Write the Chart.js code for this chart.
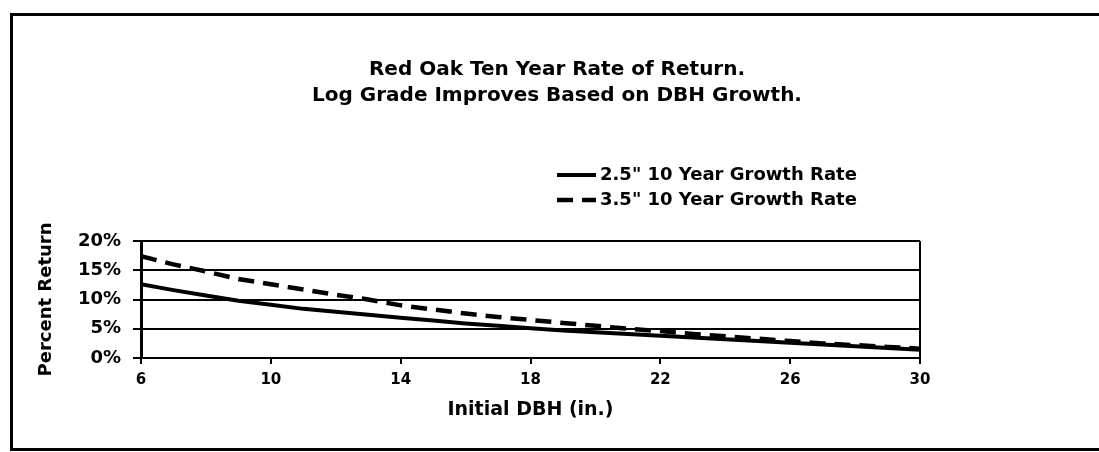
<!DOCTYPE html>
<html>
<head>
<meta charset="utf-8">
<script src="https://cdn.jsdelivr.net/npm/chart.js@4/dist/chart.umd.min.js"></script>
<style>
  html, body { margin: 0; padding: 0; background: #fff; overflow: hidden; }
  #frame { position: absolute; left: 10px; top: 13px; width: 1120px; height: 432px;
           border-left: 3px solid #000; border-top: 3px solid #000; border-bottom: 3px solid #000; }
  #wrap { position: absolute; left: 0; top: 0; width: 1099px; height: 452px; }
</style>
</head>
<body>
<div id="frame"></div>
<div id="wrap"><canvas id="c" width="1099" height="452"></canvas></div>
<script>
// ---- data ----
const titleLines = ['Red Oak Ten Year Rate of Return.', 'Log Grade Improves Based on DBH Growth.'];
const xTitle = 'Initial DBH (in.)';
const yTitle = 'Percent Return';
const seriesNames = ['2.5" 10 Year Growth Rate', '3.5" 10 Year Growth Rate'];
const dbh = [6, 7, 8, 9, 10, 11, 12, 13, 14, 15, 16, 17, 18, 19, 20, 21, 22, 23, 24, 25, 26, 27, 28, 29, 30];
const growth25 = [12.6, 11.6, 10.7, 9.8, 9.1, 8.4, 7.9, 7.4, 6.9, 6.4, 5.9, 5.5, 5.1, 4.7, 4.4, 4.1, 3.8, 3.5, 3.2, 2.9, 2.6, 2.3, 2.0, 1.7, 1.4];
const growth35 = [17.4, 16.0, 14.8, 13.5, 12.6, 11.7, 10.8, 10.0, 9.0, 8.3, 7.6, 7.0, 6.5, 6.0, 5.5, 5.0, 4.6, 4.1, 3.7, 3.3, 2.9, 2.5, 2.2, 1.9, 1.6];
const xTicks = [6, 10, 14, 18, 22, 26, 30];
const yTicks = [0, 5, 10, 15, 20];

const FONT = '"DejaVu Sans", "Liberation Sans", Arial, sans-serif';

const toPts = (xs, ys) => xs.map((x, i) => ({ x: x, y: ys[i] }));

const headerPlugin = {
  id: 'header',
  afterDraw(chart) {
    const ctx = chart.ctx;
    ctx.save();
    ctx.fillStyle = '#000';
    ctx.font = 'bold 20px ' + FONT;
    ctx.textAlign = 'center';
    ctx.textBaseline = 'middle';
    titleLines.forEach((t, i) => ctx.fillText(t, 557, 70 + i * 26));
    // legend
    ctx.font = 'bold 18px ' + FONT;
    ctx.textAlign = 'left';
    chart.data.datasets.forEach((ds, i) => {
      const y = 175 + i * 25;
      ctx.beginPath();
      ctx.setLineDash(ds.borderDash || []);
      ctx.lineWidth = ds.borderWidth;
      ctx.strokeStyle = ds.borderColor;
      ctx.moveTo(557, y);
      ctx.lineTo(596, y);
      ctx.stroke();
      ctx.setLineDash([]);
      ctx.fillText(ds.label, 600, y);
    });
    ctx.restore();
  }
};

new Chart(document.getElementById('c'), {
  type: 'line',
  data: {
    datasets: [
      { label: seriesNames[0], data: toPts(dbh, growth25), borderColor: '#000', borderWidth: 4,
        pointRadius: 0, fill: false, tension: 0 },
      { label: seriesNames[1], data: toPts(dbh, growth35), borderColor: '#000', borderWidth: 4.5,
        borderDash: [16, 9], pointRadius: 0, fill: false, tension: 0 }
    ]
  },
  options: {
    responsive: false,
    animation: false,
    layout: { padding: { top: 241, right: 179, left: 0, bottom: 0 } },
    plugins: { legend: { display: false }, title: { display: false }, tooltip: { enabled: false } },
    scales: {
      x: {
        type: 'linear', min: 6, max: 30,
        afterBuildTicks: s => { s.ticks = xTicks.map(v => ({ value: v })); },
        afterFit: s => { s.height = 94; },
        ticks: { color: '#000', font: { family: FONT, size: 15, weight: 'bold' }, padding: 7,
                 maxRotation: 0 },
        grid: { drawOnChartArea: true, tickLength: 6, tickColor: '#000', lineWidth: 2,
                color: c => (c.tick && c.tick.value === 30) ? '#000' : 'rgba(0,0,0,0)' },
        border: { display: true, color: '#000', width: 2 },
        title: { display: true, text: xTitle, color: '#000',
                 font: { family: FONT, size: 19, weight: 'bold' }, padding: { top: 0, bottom: 31 } }
      },
      y: {
        min: 0, max: 20,
        afterBuildTicks: s => { s.ticks = yTicks.map(v => ({ value: v })); },
        afterFit: s => { s.width = 141; },
        ticks: { color: '#000', font: { family: FONT, size: 18, weight: 'bold' }, padding: 12,
                 callback: v => v + '%' },
        grid: { color: '#000', lineWidth: 2, tickLength: 8, tickColor: '#000' },
        border: { display: true, color: '#000', width: 3 },
        title: { display: true, text: yTitle, color: '#000',
                 font: { family: FONT, size: 18, weight: 'bold' }, padding: { top: 36, bottom: 0 } }
      }
    }
  },
  plugins: [headerPlugin]
});
</script>
</body>
</html>
